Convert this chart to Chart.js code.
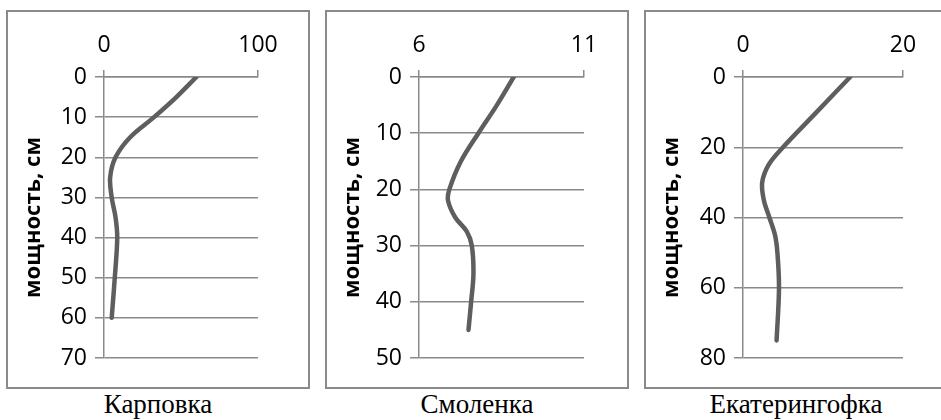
<!DOCTYPE html>
<html>
<head>
<meta charset="utf-8">
<script src="https://cdn.jsdelivr.net/npm/chart.js@4"></script>
<style>
  html, body { margin: 0; padding: 0; background: #fff; }
  body { width: 941px; height: 420px; position: relative; overflow: hidden; }
  .panel { position: absolute; top: 10px; width: 304px; height: 379px; border: 2px solid #8a8a8a; box-sizing: border-box; }
  .panel canvas { position: absolute; left: 0; top: 0; }
  .caption { position: absolute; top: 391px; width: 304px; text-align: center; font: 27px "Liberation Serif", "Times New Roman", serif; line-height: 27px; color: #000; }
</style>
</head>
<body>
<div class="panel" style="left:6px"><canvas id="c1" width="300" height="375"></canvas></div>
<div class="caption" style="left:6px">Карповка</div>
<div class="panel" style="left:325px"><canvas id="c2" width="300" height="375"></canvas></div>
<div class="caption" style="left:325px">Смоленка</div>
<div class="panel" style="left:644px"><canvas id="c3" width="300" height="375"></canvas></div>
<div class="caption" style="left:644px">Екатерингофка</div>
<script>
// ---- data ----
const yAxisTitle = 'мощность, см';

const karpovkaDepth = [0, 5, 10, 15, 20, 25, 30, 35, 40, 50, 60];
const karpovkaValue = [60, 47, 32.5, 17, 7.5, 4, 5, 7.5, 8.6, 7, 5];
const karpovkaXTicks = [0, 100];
const karpovkaYMax = 70;

const smolenkaDepth = [0, 5, 10, 15, 20, 22, 25, 27.5, 30, 35, 40, 45];
const smolenkaValue = [8.87, 8.36, 7.8, 7.27, 6.92, 6.88, 7.1, 7.45, 7.6, 7.65, 7.58, 7.5];
const smolenkaXTicks = [6, 11];
const smolenkaYMax = 50;

const ekatDepth = [0, 10, 20, 25, 30, 35, 40, 45, 50, 60, 75];
const ekatValue = [13.4, 9.2, 5.0, 3.2, 2.4, 2.6, 3.3, 4.0, 4.3, 4.5, 4.2];
const ekatXTicks = [0, 20];
const ekatYMax = 80;

const gridColor = '#8a8a8a';
const lineColor = '#5e5e5e';
const tickFont = { family: '"Open Sans", sans-serif', size: 23 };

function makePanel(id, depth, values, xTicks, yMax, yStep, leftW, chartRight) {
  const pts = depth.map((d, i) => ({ x: values[i], y: d }));
  const canvas = document.getElementById(id);
  const W = canvas.width, H = canvas.height;
  return new Chart(canvas, {
    type: 'scatter',
    data: {
      datasets: [{
        data: pts,
        showLine: true,
        borderColor: lineColor,
        borderWidth: 4.5,
        borderCapStyle: 'round',
        borderJoinStyle: 'round',
        pointRadius: 0,
        pointHoverRadius: 0,
        tension: 0.35,
        fill: false
      }]
    },
    options: {
      responsive: false,
      animation: false,
      devicePixelRatio: 1,
      layout: { padding: { left: 0, top: 0, right: W - chartRight, bottom: H - 346 } },
      plugins: { legend: { display: false }, tooltip: { enabled: false } },
      scales: {
        x: {
          type: 'linear',
          position: 'top',
          min: xTicks[0],
          max: xTicks[1],
          afterBuildTicks: s => { s.ticks = xTicks.map(v => ({ value: v })); },
          ticks: { font: tickFont, color: '#000', padding: 11, maxRotation: 0 },
          grid: { drawOnChartArea: false, drawTicks: true, tickLength: 7, color: gridColor, lineWidth: 1.5 },
          border: { display: true, color: gridColor, width: 1.5 },
          afterFit: s => { s.height = 65; }
        },
        y: {
          type: 'linear',
          position: 'left',
          reverse: true,
          min: 0,
          max: yMax,
          ticks: { stepSize: yStep, font: tickFont, color: '#000', padding: 8 },
          grid: { drawOnChartArea: true, drawTicks: true, tickLength: 9, color: gridColor, lineWidth: 1.5 },
          border: { display: true, color: gridColor, width: 1.5 },
          title: { display: true, text: yAxisTitle, color: '#000', font: { family: '"Open Sans", sans-serif', size: 22, weight: 'bold' }, padding: { top: 13, bottom: 0 } },
          afterFit: s => { s.width = leftW; }
        }
      }
    }
  });
}

makePanel('c1', karpovkaDepth, karpovkaValue, karpovkaXTicks, karpovkaYMax, 10, 96, 250);
makePanel('c2', smolenkaDepth, smolenkaValue, smolenkaXTicks, smolenkaYMax, 10, 92, 257);
makePanel('c3', ekatDepth, ekatValue, ekatXTicks, ekatYMax, 20, 97, 257);
</script>
</body>
</html>
